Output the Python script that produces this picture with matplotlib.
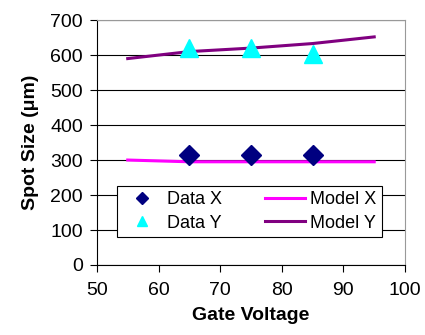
import matplotlib
matplotlib.use('Agg')
import matplotlib.pyplot as plt
import numpy as np

plt.rcParams['font.family'] = ['Liberation Sans', 'DejaVu Sans']

data_v = [65, 75, 85]
data_x = [315, 315, 315]
data_y = [620, 620, 603]

model_v = [55, 65, 75, 85, 95]
model_x = [300, 295, 295, 295, 295]
model_y = [590, 610, 620, 633, 652]

fig = plt.figure(figsize=(4.25, 3.35), dpi=100)
ax = fig.add_axes([0.228, 0.209, 0.725, 0.731])

ax.yaxis.grid(True, color='black', linewidth=0.8)
ax.set_axisbelow(True)

ax.plot(data_v, data_x, 'D', color='#000080', markersize=10, label='Data X', zorder=3)
ax.plot(data_v, data_y, '^', color='#00FFFF', markersize=13, label='Data Y', zorder=3)
ax.plot(model_v, model_x, color='#FF00FF', linewidth=2.2, label='Model X', zorder=2)
ax.plot(model_v, model_y, color='#800080', linewidth=2.2, label='Model Y', zorder=2)

ax.set_xlim(50, 100)
ax.set_ylim(0, 700)
ax.set_xticks(np.arange(50, 101, 10))
ax.set_yticks(np.arange(0, 701, 100))
ax.tick_params(labelsize=14, direction='out', length=5, color='black')
ax.tick_params(axis='x', pad=7)
ax.tick_params(axis='y', pad=5)
ax.spines['right'].set_color('#999999')
ax.spines['top'].set_color('#999999')

ax.set_xlabel('Gate Voltage', fontsize=14, fontweight='bold', labelpad=6)
ax.set_ylabel('Spot Size (\u03bcm)', fontsize=14, fontweight='bold', labelpad=8)

handles, labels = ax.get_legend_handles_labels()
leg = ax.legend(handles, labels, ncol=2, loc='center',
                bbox_to_anchor=(0.065, 0.102, 0.86, 0.233), mode='expand',
                fontsize=13, frameon=True, fancybox=False, framealpha=1,
                edgecolor='black', borderaxespad=0, handlelength=2.2,
                markerscale=0.6, columnspacing=1.8, handletextpad=0.3,
                labelspacing=0.35, borderpad=0.3)
leg.get_frame().set_linewidth(0.8)

fig.savefig('out.png', dpi=100)
